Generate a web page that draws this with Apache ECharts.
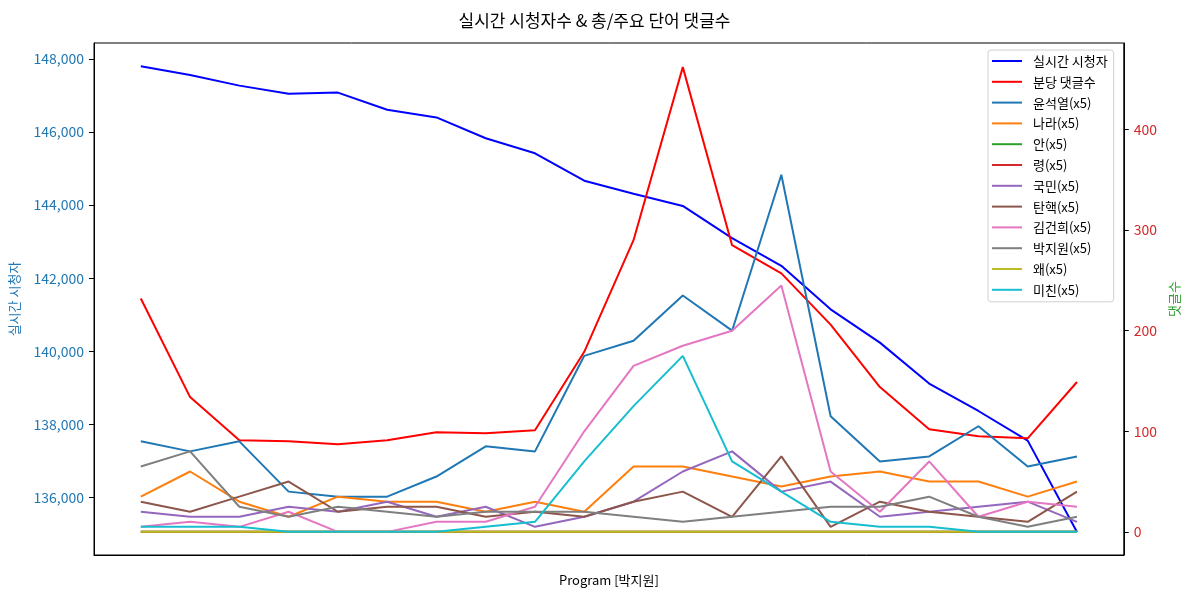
<!DOCTYPE html>
<html>
<head>
<meta charset="utf-8">
<script src="https://cdn.jsdelivr.net/npm/echarts@6/dist/echarts.min.js"></script>
<style>
html,body{margin:0;padding:0;background:#fff;}
#chart{width:1189px;height:592px;}
</style>
</head>
<body>
<div id="chart"></div>
<script>
// x positions (program segments, no tick labels)
const idx = [0,1,2,3,4,5,6,7,8,9,10,11,12,13,14,15,16,17,18,19];

// left axis: live viewers
const viewers = [147800,147560,147270,147050,147080,146610,146400,145830,145420,144670,
                 144310,143980,143100,142340,141150,140240,139120,138370,137560,135060];

// right axis: comments per minute
const comments = [232,134,91,90,87,91,99,98,101,179,290,462,285,257,206,144,102,95,93,149];

// keyword counts (x5), right axis
const kwNames = ['윤석열(x5)','나라(x5)','안(x5)','령(x5)','국민(x5)','탄핵(x5)','김건희(x5)','박지원(x5)','왜(x5)','미친(x5)'];
const kwYoon    = [90,80,90,40,35,35,55,85,80,175,190,235,200,355,115,70,75,105,65,75];
const kwNara    = [35,60,30,15,35,30,30,20,30,20,65,65,55,45,55,60,50,50,35,50];
const kwAn      = [0,0,0,0,0,0,0,0,0,0,0,0,0,0,0,0,0,0,0,0];
const kwRyeong  = [0,0,0,0,0,0,0,0,0,0,0,0,0,0,0,0,0,0,0,0];
const kwGukmin  = [20,15,15,25,20,30,15,25,5,15,30,60,80,40,50,15,20,25,30,10];
const kwTanhaek = [30,20,35,50,20,25,25,15,20,15,30,40,15,75,5,30,20,15,10,40];
const kwKimgh   = [5,10,5,20,0,0,10,10,25,100,165,185,200,245,60,20,70,15,30,25];
const kwParkjw  = [65,80,25,15,25,20,15,20,20,20,15,10,15,20,25,25,35,15,5,15];
const kwWae     = [0,0,0,0,0,0,0,0,0,0,0,0,0,0,0,0,0,0,0,0];
const kwMichin  = [5,5,5,0,0,0,0,5,10,70,125,175,70,40,10,5,5,0,0,0];
const kwData = [kwYoon,kwNara,kwAn,kwRyeong,kwGukmin,kwTanhaek,kwKimgh,kwParkjw,kwWae,kwMichin];
const kwColors = ['#1f77b4','#ff7f0e','#2ca02c','#d62728','#9467bd','#8c564b','#e377c2','#7f7f7f','#bcbd22','#17becf'];

const FONT = '"Noto Sans CJK KR", "Noto Sans", sans-serif';
const pair = arr => idx.map((x,i)=>[x, arr[i]]);

const series = [
  {name:'실시간 시청자', type:'line', yAxisIndex:0, data:pair(viewers), symbol:'none',
   lineStyle:{color:'#0000ff', width:2}, itemStyle:{color:'#0000ff'}},
  {name:'분당 댓글수', type:'line', yAxisIndex:1, data:pair(comments), symbol:'none',
   lineStyle:{color:'#ff0000', width:2}, itemStyle:{color:'#ff0000'}}
];
kwNames.forEach((n,k)=>{
  series.push({name:n, type:'line', yAxisIndex:1, data:pair(kwData[k]), symbol:'none',
    lineStyle:{color:kwColors[k], width:2}, itemStyle:{color:kwColors[k]}});
});

const chart = echarts.init(document.getElementById('chart'), null, {renderer:'canvas'});
chart.setOption({
  animation:false,
  textStyle:{fontFamily:FONT},
  title:{text:'실시간 시청자수 & 총/주요 단어 댓글수', left:'center', top:7,
    textStyle:{fontFamily:FONT, fontSize:17, fontWeight:'normal', color:'#000'}},
  grid:{left:93, right:63, top:43, bottom:35, show:true, borderColor:'#000', borderWidth:1, backgroundColor:'transparent'},
  legend:{
    orient:'vertical', left:988, top:50,
    icon:'rect', itemWidth:30, itemHeight:2, itemGap:6.8,
    padding:[4,6,5,4],
    backgroundColor:'rgba(255,255,255,0.8)', borderColor:'#d0d0d0', borderWidth:1, borderRadius:3,
    textStyle:{fontFamily:FONT, fontSize:13, color:'#000', lineHeight:14, padding:[0,0,0,6]},
    data:series.map(s=>s.name)
  },
  xAxis:{
    type:'value', min:-0.95, max:19.95,
    name:'Program [박지원]', nameLocation:'middle', nameGap:19,
    nameTextStyle:{fontFamily:FONT, fontSize:13, color:'#000'},
    axisLine:{show:true, onZero:false, lineStyle:{color:'#000'}},
    axisTick:{show:false}, axisLabel:{show:false}, splitLine:{show:false}
  },
  yAxis:[
    {type:'value', position:'left', min:134431, max:148436, splitNumber:7,
     name:'실시간 시청자', nameLocation:'middle', nameRotate:90, nameGap:73,
     nameTextStyle:{fontFamily:FONT, fontSize:13, color:'#1f77b4'},
     axisLine:{show:true, onZero:false, lineStyle:{color:'#000'}},
     axisTick:{show:true, inside:false, length:5, lineStyle:{color:'#000'}},
     axisLabel:{color:'#1f77b4', fontSize:14, fontFamily:FONT, margin:10,
       showMinLabel:false, showMaxLabel:false,
       formatter:v=>Number(v).toLocaleString('en-US')},
     splitLine:{show:false}},
    {type:'value', position:'right', min:-23, max:486, splitNumber:5,
     name:'댓글수', nameLocation:'middle', nameRotate:90, nameGap:40,
     nameTextStyle:{fontFamily:FONT, fontSize:13, color:'#2ca02c'},
     axisLine:{show:true, onZero:false, lineStyle:{color:'#000'}},
     axisTick:{show:true, inside:false, length:5, lineStyle:{color:'#000'}},
     axisLabel:{color:'#d62728', fontSize:14, fontFamily:FONT, margin:10,
       showMinLabel:false, showMaxLabel:false},
     splitLine:{show:false}}
  ],
  series:series
});
</script>
</body>
</html>
